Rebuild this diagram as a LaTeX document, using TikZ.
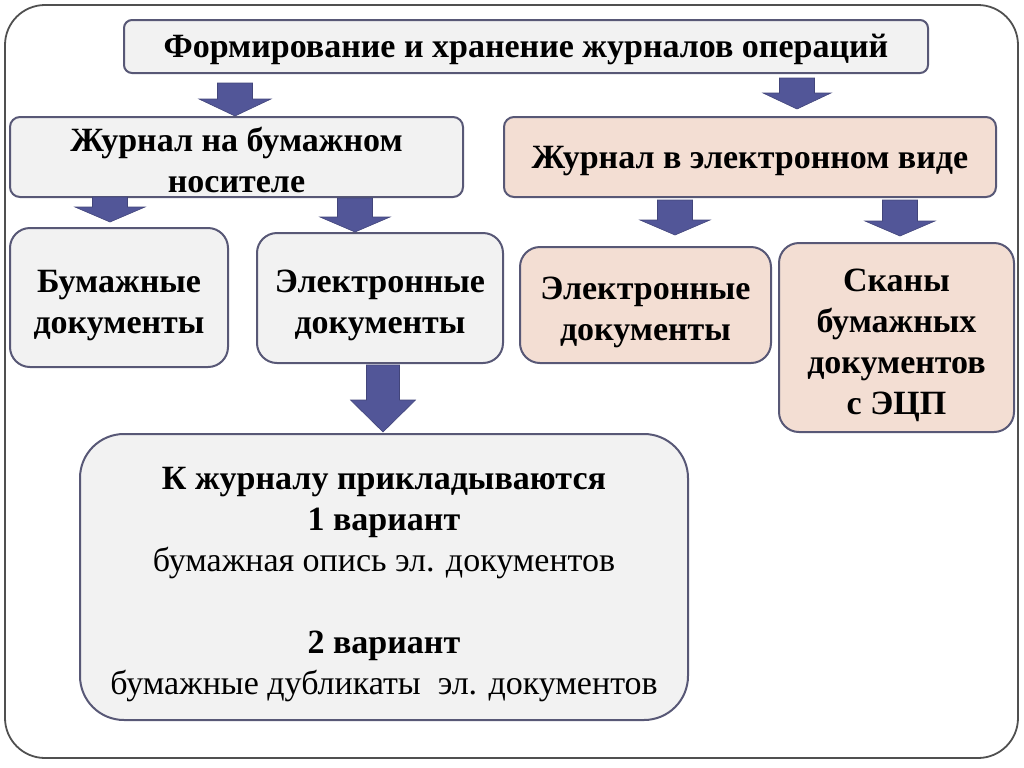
\documentclass[tikz,border=0pt]{standalone}
\usepackage{fontspec}
\setmainfont{Liberation Serif}
\usetikzlibrary{positioning}
\definecolor{boxgray}{RGB}{242,242,242}
\definecolor{boxpink}{RGB}{243,222,211}
\definecolor{boxline}{RGB}{88,88,118}
\definecolor{arrowblue}{RGB}{82,86,152}
\definecolor{framegray}{RGB}{80,80,80}
\newcommand{\pad}[1][19pt]{\rule{0pt}{#1}}
\tikzstyle{box}=[draw=boxline,line width=1pt,align=center,inner sep=0pt,
  font=\bfseries\fontsize{17}{20.5}\selectfont]
\tikzstyle{graybox}=[box,fill=boxgray]
\tikzstyle{pinkbox}=[box,fill=boxpink]
\tikzstyle{frame}=[draw=framegray,line width=0.9pt,rounded corners=20pt]
\tikzset{pics/downarrow/.style n args={4}{code={
  \filldraw[fill=arrowblue,draw=arrowblue!80!black,line width=0.3pt]
    (-#3,0) -- (#3,0) -- (#3,#1-#2) -- (#4,#1-#2) -- (0,#1)
    -- (-#4,#1-#2) -- (-#3,#1-#2) -- cycle;}}}

\begin{document}
\begin{tikzpicture}[x=0.5pt,y=-0.5pt]
  \useasboundingbox (0,0) rectangle (1024,767);
  \draw[frame] (5,5) rectangle (1018,758);
  % top level
  \node[graybox,rounded corners=4pt,minimum width=402pt,minimum height=26.5pt] (title)
        at (526,46.5) {\pad[15pt]Формирование и хранение журналов операций};
  \node[graybox,rounded corners=5pt,minimum width=226.5pt,minimum height=40pt] (paper)
        at (236.5,157) {\pad[15pt]Журнал на бумажном\\носителе};
  \node[pinkbox,rounded corners=5pt,minimum width=246pt,minimum height=40pt] (elec)
        at (750,157) {\pad[15pt]Журнал в электронном виде};
  % second level
  \tikzset{box/.append style={rounded corners=10pt}}
  \node[graybox,minimum width=109pt,minimum height=69.5pt] (pdocs) at (119,297.5)
        {\pad Бумажные\\документы};
  \node[graybox,minimum width=123pt,minimum height=65pt] (edocsA) at (380,298)
        {\pad Электронные\\документы};
  \node[pinkbox,minimum width=125.5pt,minimum height=58pt] (edocsB) at (645.5,305)
        {\pad Электронные\\документы};
  \node[pinkbox,minimum width=117.5pt,minimum height=94.5pt] (scans) at (896.5,337.5)
        {\pad Сканы\\бумажных\\документов\\с ЭЦП};
  % attachments
  \node[graybox,rounded corners=22pt,minimum width=304pt,minimum height=143pt,
        font=\fontsize{17}{20.5}\selectfont] (attach) at (384,577)
        {\pad\textbf{К журналу прикладываются}\\\textbf{1 вариант}\\
         бумажная опись эл. документов\\[20.5pt]
         \textbf{2 вариант}\\бумажные дубликаты\ \ эл. документов};
  % arrows
  \pic at (235,83) {downarrow={33}{17}{17.5}{36}};
  \pic at (797,78) {downarrow={31}{16}{17.5}{34}};
  \pic at (110,197) {downarrow={25}{15}{17.5}{35}};
  \pic at (355,198) {downarrow={34}{15}{17.5}{35}};
  \pic at (675,200) {downarrow={35}{15}{17.5}{35}};
  \pic at (900,200) {downarrow={36}{15}{17.5}{35}};
  \pic at (383,365) {downarrow={67}{32}{16.5}{32.5}};
\end{tikzpicture}
\end{document}
